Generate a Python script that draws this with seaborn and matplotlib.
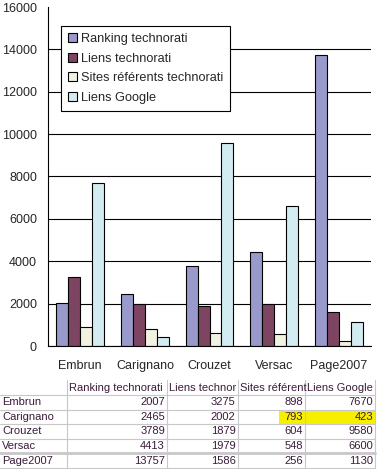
import numpy as np
import pandas as pd
import seaborn as sns
import matplotlib.pyplot as plt

sites = ["Embrun", "Carignano", "Crouzet", "Versac", "Page2007"]
series = ["Ranking technorati", "Liens technorati", "Sites référents technorati", "Liens Google"]
# en-têtes tels qu'ils apparaissent (coupés) dans le tableau
table_headers = ["Ranking technorati", "Liens technor", "Sites référent", "Liens Google"]
ranking = [2007, 2465, 3789, 4413, 13757]
liens_techno = [3275, 2002, 1879, 1979, 1586]
sites_ref = [898, 793, 604, 548, 256]
liens_google = [7670, 423, 9580, 6600, 1130]
colors = ["#9999cc", "#7e4563", "#f2f2e3", "#d3ecf1"]
y_ticks = list(range(0, 16001, 2000))

values = [ranking, liens_techno, sites_ref, liens_google]
df = pd.DataFrame({
    "site": sites * len(series),
    "serie": [s for s in series for _ in sites],
    "valeur": [v for vals in values for v in vals],
})

sns.set_style("white")
plt.rcParams['font.family'] = ['Liberation Sans', 'DejaVu Sans']

fig = plt.figure(figsize=(3.77, 4.69), dpi=100)
W, H = 377, 469
ax = fig.add_axes([48 / W, (H - 346) / H, (371 - 48) / W, (346 - 7) / H])

sns.barplot(data=df, x="site", y="valeur", hue="serie", order=sites, hue_order=series,
            palette=colors, width=0.74, edgecolor="black", linewidth=0.8,
            saturation=1, ax=ax, legend=True)

ax.set_xlim(-0.5, len(sites) - 0.5)
ax.set_ylim(0, 16000)
ax.set_yticks(y_ticks)
ax.set_yticklabels([str(t) for t in y_ticks], fontsize=9)
ax.set_xticks(range(len(sites)))
ax.set_xticklabels(sites, fontsize=9)
ax.set_xticks(np.arange(-0.5, len(sites)), minor=True)
ax.tick_params(axis='x', which='major', length=0, pad=10)
ax.tick_params(axis='x', which='minor', length=5, width=0.8, color='black', direction='out')
ax.tick_params(axis='y', length=5, width=0.8, color='black', direction='out', pad=3)
ax.set_xlabel("")
ax.set_ylabel("")
ax.yaxis.grid(True, color='black', linewidth=0.8)
ax.get_ygridlines()[-1].set_visible(False)
ax.set_axisbelow(True)
for s in ["top", "right"]:
    ax.spines[s].set_visible(False)
for s in ["left", "bottom"]:
    ax.spines[s].set_color("black")
    ax.spines[s].set_linewidth(0.8)

leg = ax.legend(loc="upper left", bbox_to_anchor=((61 - 48) / 323, (346 - 26) / 339),
                fontsize=9.2, frameon=True, fancybox=False, shadow=False,
                handlelength=0.7, handleheight=0.7, handletextpad=0.3,
                labelspacing=0.6, borderpad=0.55, borderaxespad=0)
leg.get_frame().set_edgecolor("black")
leg.get_frame().set_linewidth(0.8)
leg.get_frame().set_alpha(1)
for h in leg.legend_handles:
    h.set_edgecolor("black")
    h.set_linewidth(0.8)

# tableau de données sous le graphique
tx = fig.add_axes([0, 0, 1, 90 / H])
tx.set_xlim(0, W)
tx.set_ylim(H, H - 90)
tx.axis('off')
txt_col = "#3a1c3a"
grid_col = "#c8c8c8"
col_edges = [67, 167, 237.5, 305, 375]
row_y = [402, 417, 431, 446, 461]
row_lines = [395, 409.5, 424, 438.5, 453, 468]

# cellules surlignées (Carignano : sites référents et liens Google)
tx.fill_between([279, 375], 409.5, 424, color="#f7ef00", linewidth=0, zorder=0)

for y in row_lines:
    lw = 2.0 if y == 453 else 0.8
    tx.plot([0, 375], [y, y], color=grid_col, linewidth=lw, zorder=1)
for x in col_edges:
    tx.plot([x, x], [380, 469], color=grid_col, linewidth=0.8, zorder=1)

for j, name in enumerate(table_headers):
    tx.text(col_edges[j] + 2, 388, name, fontsize=8, color=txt_col, va="center", ha="left")

for i, name in enumerate(sites):
    tx.text(2, row_y[i], name, fontsize=8, color=txt_col, va="center", ha="left")
    for j, vals in enumerate(values):
        tx.text(col_edges[j + 1] - 2, row_y[i], str(vals[i]), fontsize=8,
                color=txt_col, va="center", ha="right")

fig.savefig("out.png", dpi=100)
